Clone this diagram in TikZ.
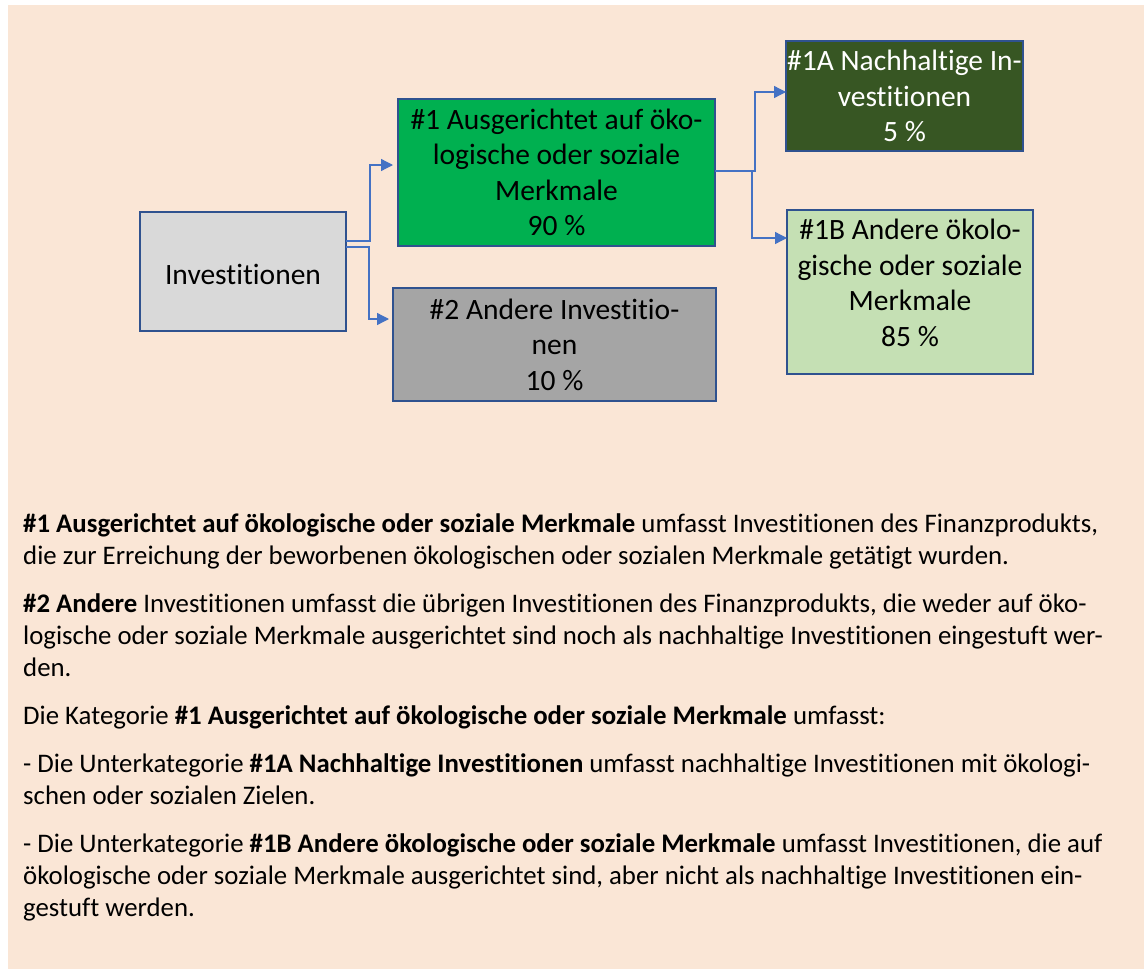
\documentclass[tikz,border=0pt]{standalone}
\usepackage{fontspec}
\setmainfont{Carlito}[Ligatures={NoCommon}]
\usetikzlibrary{arrows.meta}
\definecolor{bg}{HTML}{FAE6D6}
\definecolor{boxline}{HTML}{2F528F}
\definecolor{conncol}{HTML}{4472C4}
\definecolor{invfill}{HTML}{D9D9D9}
\definecolor{gfill}{HTML}{00B050}
\definecolor{greyfill}{HTML}{A5A5A5}
\definecolor{darkfill}{HTML}{375623}
\definecolor{lightfill}{HTML}{C5E0B4}
\begin{document}
\begin{tikzpicture}[x=1pt,y=-1pt,
  box/.style={draw=boxline, line width=2pt, inner sep=0pt, outer sep=0pt, align=center,
    font=\fontsize{29.5}{35.5}\selectfont},
  boxtext/.style={inner sep=0pt, align=center, font=\fontsize{29.5}{35.5}\selectfont},
  conn/.style={draw=conncol, line width=1.3pt, -{Triangle[length=12pt,width=12pt]}},
  bodyline/.style={anchor=base west, inner sep=0pt, font=\fontsize{26.8}{32}\selectfont}]
\useasboundingbox (0,0) rectangle (1144,969);
\fill[bg] (8,5) rectangle (1144,969);
\node[box, fill=invfill, minimum width=206pt, minimum height=119pt] (inv) at (243,271.5) {};
\node[boxtext] (invt) at (243,274.5) {Investitionen};
\node[box, fill=gfill, minimum width=317pt, minimum height=147pt] (g1) at (556.5,172.5) {\#1 Ausgerichtet auf öko-\\logische oder soziale\\Merkmale\\90 \%};
\node[box, fill=greyfill, minimum width=323pt, minimum height=113pt] (g2) at (554.5,344.5) {\#2 Andere Investitio-\\nen\\10 \%};
\node[box, fill=darkfill, text=white, minimum width=237pt, minimum height=110pt] (a1) at (904.5,96) {\#1A Nachhaltige In-\\vestitionen\\5 \%};
\node[box, fill=lightfill, minimum width=246pt, minimum height=164pt] (b1) at (910,292) {};
\node[boxtext] (b1t) at (910,283) {\#1B Andere ökolo-\\gische oder soziale\\Merkmale\\85 \%};
\draw[conn, shorten >=5pt] (inv.east |- 0,241) -- (370,241) |- (g1.west |- 0,165);
\draw[conn, shorten >=4pt] (inv.east |- 0,247) -- (369,247) |- (g2.west |- 0,319);
\draw[conn] (g1.east |- 0,171) -- (755,171) |- (a1.west |- 0,92);
\draw[conn] (g1.east |- 0,171) -- (752,171) |- (b1.west |- 0,238);
\node[bodyline] (l1) at (23,532) {\textbf{\#1 Ausgerichtet auf ökologische oder soziale Merkmale} umfasst Investitionen des Finanzprodukts,};
\node[bodyline] (l2) at (23,564) {die zur Erreichung der beworbenen ökologischen oder sozialen Merkmale getätigt wurden.};
\node[bodyline] (l3) at (23,612) {\textbf{\#2 Andere} Investitionen umfasst die übrigen Investitionen des Finanzprodukts, die weder auf öko-};
\node[bodyline] (l4) at (23,644) {logische oder soziale Merkmale ausgerichtet sind noch als nachhaltige Investitionen eingestuft wer-};
\node[bodyline] (l5) at (23,676) {den.};
\node[bodyline] (l6) at (23,724) {Die Kategorie \textbf{\#1 Ausgerichtet auf ökologische oder soziale Merkmale} umfasst:};
\node[bodyline] (l7) at (23,772) {- Die Unterkategorie \textbf{\#1A Nachhaltige Investitionen} umfasst nachhaltige Investitionen mit ökologi-};
\node[bodyline] (l8) at (23,804) {schen oder sozialen Zielen.};
\node[bodyline] (l9) at (23,852) {- Die Unterkategorie \textbf{\#1B Andere ökologische oder soziale Merkmale} umfasst Investitionen, die auf};
\node[bodyline] (l10) at (23,884) {ökologische oder soziale Merkmale ausgerichtet sind, aber nicht als nachhaltige Investitionen ein-};
\node[bodyline] (l11) at (23,916) {gestuft werden.};
\end{tikzpicture}
\end{document}
